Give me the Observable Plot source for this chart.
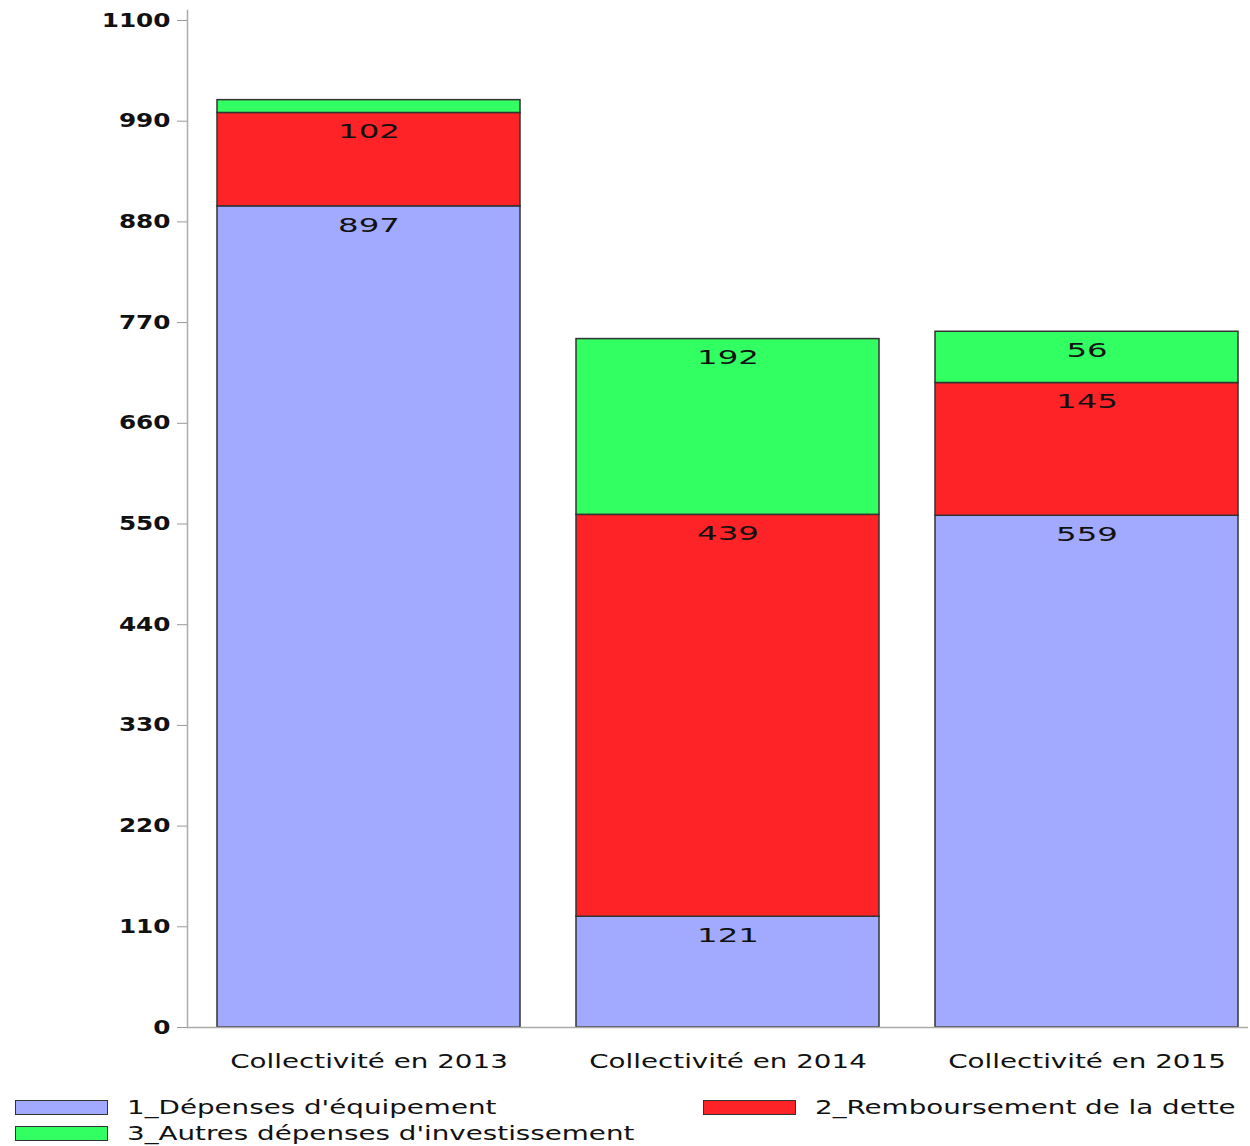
<!DOCTYPE html>
<html>
<head>
<meta charset="utf-8">
<script src="https://cdn.jsdelivr.net/npm/d3@7"></script>
<script src="https://cdn.jsdelivr.net/npm/@observablehq/plot@0.6"></script>
<style>
  html, body { margin: 0; padding: 0; background: #fff; }
  #chart svg { display: block; }
  #legend {
    width: 1250px; box-sizing: border-box; padding: 7px 0 0 15px;
    display: grid; grid-template-columns: 688px 1fr; grid-auto-rows: 26px;
    font-family: "DejaVu Sans", sans-serif; font-size: 19px; color: #111;
  }
  .item { display: flex; align-items: center; white-space: nowrap; }
  .sw { width: 91px; height: 13px; border: 1.5px solid #333; margin-right: 19px; flex: none; }
  .lab { display: inline-block; transform: scaleX(1.46); transform-origin: left center; }
</style>
</head>
<body>
<div id="chart"></div>
<div id="legend"></div>
<script>
const categories = ["Collectivité en 2013", "Collectivité en 2014", "Collectivité en 2015"];
const series = ["1_Dépenses d'équipement", "2_Remboursement de la dette", "3_Autres dépenses d'investissement"];
const equipement = [897, 121, 559];
const remboursement = [102, 439, 145];
const autres = [14, 192, 56];
const yTicks = [0, 110, 220, 330, 440, 550, 660, 770, 880, 990, 1100];
const colors = ["#a2aaff", "#fe2326", "#32ff62"];

const valuesBySeries = [equipement, remboursement, autres];
const data = [];
series.forEach((s, i) => categories.forEach((c, j) => data.push({cat: c, series: s, value: valuesBySeries[i][j]})));

const font = "DejaVu Sans, sans-serif";

const chart = Plot.plot({
  width: 1250,
  height: 1087,
  marginLeft: 187,
  marginRight: 2,
  marginTop: 10,
  marginBottom: 60,
  style: {fontFamily: font, background: "#fff", color: "#111"},
  x: {domain: categories, paddingInner: 0.157, paddingOuter: 0.054, align: 0.74, label: null, axis: null},
  y: {domain: [0, 1100], range: [1027, 20], label: null, axis: null},
  color: {domain: series, range: colors},
  marks: [
    Plot.frame({anchor: "left", stroke: "#aaa", strokeWidth: 1.5}),
    Plot.barY(data, {x: "cat", y: "value", fill: "series", stroke: "#333", strokeWidth: 1.5}),
    Plot.ruleY([0], {stroke: "#aaa", strokeWidth: 1.5}),
    Plot.text(data, Plot.stackY2({
      x: "cat", y: "value", z: "series",
      text: d => d.value >= 30 ? String(d.value) : null,
      dy: 19, fontSize: 20, fill: "#111", className: "vlab"
    })),
    Plot.axisY({ticks: yTicks, tickSize: 10, tickPadding: 7, stroke: "#999", fill: "#111",
      fontSize: 19, fontWeight: "bold", tickFormat: d => String(d), className: "ylab"}),
    Plot.axisX({tickSize: 0, tickPadding: 27, fontSize: 19, fill: "#111", className: "xlab"})
  ]
});

document.getElementById("chart").appendChild(chart);

function stretch(selector, k) {
  chart.querySelectorAll(selector + " text").forEach(t => {
    const len = t.getComputedTextLength();
    if (len > 0) {
      t.setAttribute("textLength", (len * k).toFixed(1));
      t.setAttribute("lengthAdjust", "spacingAndGlyphs");
    }
  });
}
stretch(".ylab", 1.3);
stretch(".xlab", 1.46);
stretch(".vlab", 1.62);

const legend = document.getElementById("legend");
[0, 1, 2].forEach(i => {
  const it = document.createElement("div");
  it.className = "item";
  const sw = document.createElement("span");
  sw.className = "sw";
  sw.style.background = colors[i];
  const lab = document.createElement("span");
  lab.className = "lab";
  lab.textContent = series[i];
  it.appendChild(sw);
  it.appendChild(lab);
  legend.appendChild(it);
});
</script>
</body>
</html>
